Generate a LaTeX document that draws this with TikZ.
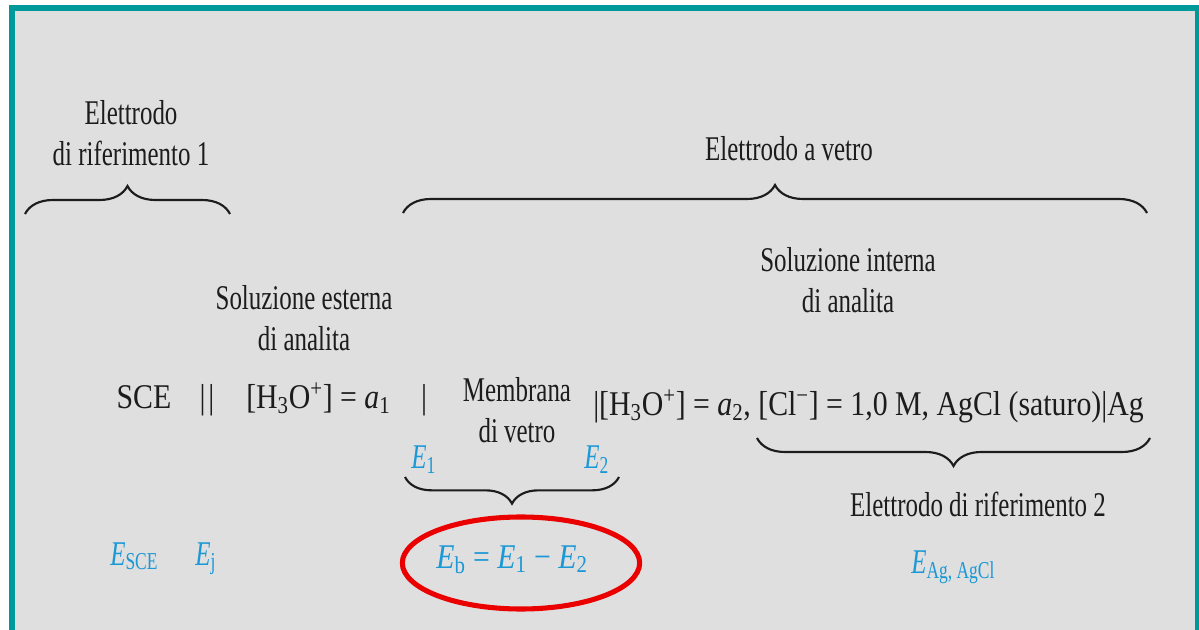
\documentclass[tikz,border=0pt]{standalone}
\usepackage{fontspec}
\setmainfont{Liberation Serif}[FakeStretch=0.72]
\newfontfamily\cellfont{Liberation Serif}[FakeStretch=0.86]
\usetikzlibrary{decorations.pathreplacing, shapes.geometric}
\definecolor{ecteal}{RGB}{0,153,153}
\definecolor{ecpanel}{RGB}{223,223,223}
\definecolor{ecblue}{RGB}{27,152,214}
\definecolor{ecred}{RGB}{235,0,0}
\definecolor{ecink}{RGB}{28,28,28}
\tikzset{
    txt/.style={font=\fontsize{26}{31}\selectfont, text=ecink, inner sep=0pt, align=center},
    cell/.style={txt, font=\fontsize{26}{31}\cellfont},
    pot/.style={txt, text=ecblue},
    potw/.style={cell, text=ecblue},
    brc/.style={decorate, decoration={brace, amplitude=21pt}, line width=1.6pt, draw=ecink},
    ring/.style={ellipse, draw=ecred, line width=3.8pt, minimum width=178pt, minimum height=69pt, inner sep=0pt},
}

\begin{document}
\begin{tikzpicture}[x=0.75pt, y=0.75pt]
    % frame
    \useasboundingbox[fill=white] (0,0) rectangle (1199,-630);
    \fill[ecteal] (9,-5) rectangle (1199,-630);
    \fill[ecpanel] (15,-11) rectangle (1195,-630);

    % labels above (base = last line)
    \node[txt, anchor=base] (ref1) at (131,-166) {Elettrodo\\di riferimento 1};
    \node[txt, anchor=base] (glass) at (789,-161) {Elettrodo a vetro};
    \node[txt, anchor=base] (solext) at (304,-351) {Soluzione esterna\\di analita};
    \node[txt, anchor=base] (solint) at (848,-313) {Soluzione interna\\di analita};

    % cell notation
    \node[cell, anchor=base] (sce) at (144,-409) {SCE};
    \node[cell, anchor=base] (jct) at (207,-409) {|\kern2pt|};
    \node[cell, anchor=base west] (ext) at (246,-409) {[H\textsubscript{3}O\textsuperscript{+}] = \textit{a}\textsubscript{1}};
    \node[cell, anchor=base] (bar) at (424,-409) {|};
    \node[txt, anchor=base] (mem) at (517,-443) {Membrana\\di vetro};
    \node[cell, anchor=base west] (int) at (593,-416) {|[H\textsubscript{3}O\textsuperscript{+}] = \textit{a}\textsubscript{2}, [Cl\textsuperscript{−}] = 1,0 M, AgCl (saturo)|Ag};
    \node[txt, anchor=base] (ref2) at (978,-517) {Elettrodo di riferimento 2};

    % potentials
    \node[pot, anchor=base west] (e1) at (411,-469) {\textit{E}\textsubscript{1}};
    \node[pot, anchor=base west] (e2) at (584,-469) {\textit{E}\textsubscript{2}};
    \node[pot, anchor=base west] (esce) at (110,-565) {\textit{E}\textsubscript{SCE}};
    \node[pot, anchor=base west] (ej) at (195,-565) {\textit{E}\textsubscript{j}};
    \node[potw, anchor=base] (eb) at (512,-568) {\textit{E}\textsubscript{b} = \textit{E}\textsubscript{1} − \textit{E}\textsubscript{2}};
    \node[pot, anchor=base west] (eag) at (911,-573) {\textit{E}\textsubscript{Ag, AgCl}};
    \node[ring] (ring) at (521,-563) {};

    % braces
    \coordinate (b1l) at (25,-214);
    \coordinate (b1r) at (230,-214);
    \coordinate (b2l) at (403,-213);
    \coordinate (b2r) at (1147,-213);
    \coordinate (b3l) at (405,-477);
    \coordinate (b3r) at (619,-477);
    \coordinate (b4l) at (757,-438);
    \coordinate (b4r) at (1150,-438);
    \draw[brc] (b1l) -- (b1r);
    \draw[brc] (b2l) -- (b2r);
    \draw[brc, decoration={amplitude=20pt}] (b3r) -- (b3l);
    \draw[brc] (b4r) -- (b4l);
\end{tikzpicture}
\end{document}
